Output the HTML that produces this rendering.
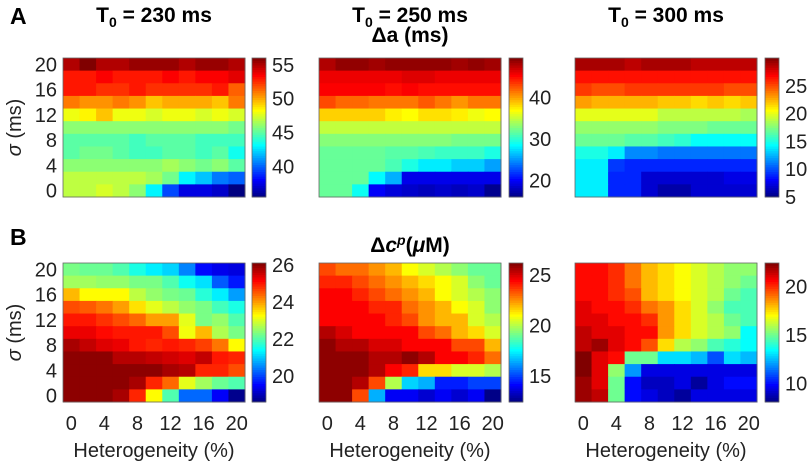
<!DOCTYPE html>
<html><head><meta charset="utf-8"><style>
html,body{margin:0;padding:0;background:#fff;}
svg{display:block;font-family:"Liberation Sans",Arial,sans-serif;}
</style></head><body>
<svg id="fig" width="812" height="465" viewBox="0 0 812 465" xmlns="http://www.w3.org/2000/svg">
<text x="10" y="24" font-size="23" font-weight="bold">A</text>
<text x="10" y="245" font-size="23" font-weight="bold">B</text>
<text x="154" y="22" font-size="21" font-weight="bold" text-anchor="middle">T<tspan font-size="14" dy="5">0</tspan><tspan dy="-5"> = 230 ms</tspan></text>
<text x="410" y="22" font-size="21" font-weight="bold" text-anchor="middle">T<tspan font-size="14" dy="5">0</tspan><tspan dy="-5"> = 250 ms</tspan></text>
<text x="666" y="22" font-size="21" font-weight="bold" text-anchor="middle">T<tspan font-size="14" dy="5">0</tspan><tspan dy="-5"> = 300 ms</tspan></text>
<text x="410" y="42" font-size="21" font-weight="bold" text-anchor="middle">Δa (ms)</text>
<text x="410" y="252" font-size="21" font-weight="bold" text-anchor="middle">Δ<tspan font-style="italic">c</tspan><tspan font-size="14" font-style="italic" dy="-7">p</tspan><tspan dy="7">(</tspan><tspan font-style="italic">μ</tspan>M)</text>
<g id="plots"></g>
</svg>
<script>
// categories
const hetCats = [0,2,4,6,8,10,12,14,16,18,20];
const sigmaCats = [20,18,16,14,12,10,8,6,4,2,0];
const xTickLabels = ["0","4","8","12","16","20"];
const yTickLabels = ["20","16","12","8","4","0"];
// Panel A1 (T0=230) delta a
const a230 = [
[55,56,55,55,55.5,55.5,55.5,55,55.5,55.5,55],
[53,53,53.5,53,53,53,53.5,53,53.5,53.5,54],
[53,53,52.5,52.5,53,52.5,52.5,52.5,52.5,53,51.5],
[51,50.5,50.5,51,50.5,49.5,50,50,50,49.5,51],
[48,48.5,49.5,48,48,47.5,48,48,47.5,48,47.5],
[46,46,46,46,46,46,46,46,46,46,45.5],
[45,45,45,45,44.5,45,45,45,44.5,44.5,44.5],
[45,45.5,45.5,45,44.5,44.5,45,45,44.5,45,43.5],
[46,46,46,46,46,46,46.5,46,45.5,46,45],
[47,47,47,47,47,46.5,45.5,43,42,40.5,40],
[47,47,47.5,47,46,43,39.5,37.5,37.5,37,35.5]];
const a250 = [
[48,49,49,48.5,49,49,49,49,48.5,49,48.5],
[46,46,46,46,46,46.5,46.5,46,46,46,46],
[45.5,45.5,45.5,45.5,45,45.5,45,45,45,45,45],
[43,42,42,41.5,41.5,41.5,42.5,41.5,40.5,41.5,41.5],
[38.5,38.5,38.5,38.5,37.5,37,38,38,37.5,36.5,37],
[35,35,35,35,35,35,35,35,35,35,35],
[33,33,33,33,33,33,33,33,32.5,32.5,32.5],
[32,32,32,32,31.5,31.5,31,30.5,30.5,30.5,29.5],
[32,32,32,32,31,29.5,28,28,27,27,25.5],
[32,32,32,28.5,26,19.5,19.5,19.5,19.5,19.5,19.5],
[32,32,29,20,19,18.5,18,18.5,18,18.5,16.5]];
const a300 = [
[29,29,29,28.5,29,29,29,28.5,28.5,28.5,28.5],
[26.5,26.5,26.5,26.5,26.5,26.5,26.5,26.5,26.5,26.5,26.5],
[25.5,25,25,25.5,25.5,25.5,25.5,25.5,25.5,25,25],
[23,22.5,22.5,22.5,22.5,22,22,21.5,22,21.5,22],
[20,20,20,20,20,19,19,19,19,19,18.5],
[18,18,18,18,18,17.5,17.5,17.5,17,17,17],
[17,17,17,16.5,16.5,16,15.5,14.5,14.5,14.5,14.5],
[15,15,14,11.5,11.5,11,11,11,11,11,11],
[14,14,9.5,9,9,9,9,9,9,9,9],
[14,14,9,9,7,7,7,7,7,7.5,7.5],
[14,14,9,9,7,6,6,7,7,7,7]];
const c230 = [
[22.3,22.2,22.2,22,21.6,21.3,21.1,20.5,19.6,19.4,19.3],
[22.6,22.6,22.5,22.5,22.3,22.3,22,21.5,21.2,20.2,19.7],
[23.8,23.3,23.3,23.3,22.8,22.5,22.3,22.2,21.7,21.3,20.7],
[24.6,24.5,24.3,24,23.5,23.1,22.8,22.5,22.3,21.9,21.6],
[25,25,24.8,24.6,24.4,24,24,23.1,22.3,22.5,22],
[25.3,25.3,25.1,25,25,25,24.6,23.2,23.8,22.7,22.3],
[25.8,25.6,25.4,25.3,25,24.9,25,24.9,24.7,24.3,23.3],
[26,26,26,25.7,25.7,25.6,25.5,25.4,25.6,25,24.9],
[26,26,26,26,26,26,25.8,25.7,24.9,24.9,24.6],
[26,26,26,26,25.8,24.9,24.4,23.1,22.6,22.2,22],
[26,26,26,25.8,24.9,23.3,22,20.3,20.3,19.5,18.7]];
const c250 = [
[23.5,23,23,22.5,22,21,20.5,20,19.5,19,19],
[24,24,23.5,23,22.5,22,21.5,21,20.5,19.5,19],
[24.5,24.5,24,23.5,23,22.5,22,21,20.5,20,19.5],
[24.5,24.5,24.5,24,24,23,22.5,22,21,20.5,19.5],
[24.5,24.5,24.5,24.5,24,23.5,22.5,22,22,20.5,20],
[25.5,25,24.5,24.5,24.5,24.5,23.5,23,22,21.5,20.5],
[26,25.5,25.5,25,25,24.5,24.5,24.5,23.5,23.5,22],
[26,26,26,25.5,25.5,26,25.5,24.5,24.5,24,23],
[26,26,26,25.5,24.5,24,21.5,21.5,20.5,20.5,20],
[26,26,25.5,23.5,20,17,16.5,14.5,14.5,15,15],
[26,26,23.5,16.5,14,14,13.5,14,13.5,14,12.5]];
const c300 = [
[20.5,20.5,20,19,18,17.5,17,16.5,16,15.5,15.5],
[20.5,20.5,20,19,18,17.5,17,16.5,16,15.5,15],
[20.5,20.5,20,19.5,18,17.5,17,16.5,16,15,14.5],
[21,20.5,20.5,20,19,18.5,17.5,16.5,15.5,14.5,14.5],
[21,21,20.5,20.5,20,18.5,17.5,16.5,16,15,14.5],
[21.5,21,21,20.5,20.5,18.5,17.5,16.5,16,15.5,13.5],
[21.5,22,21,20.5,19.5,17.5,16,15.5,14.5,14,13.5],
[22.5,21,20.5,15,15,13,13,12.5,11,13,12.5],
[22.5,21,15.5,12,9.5,9.5,9.5,9.5,9.5,9.5,9.5],
[22,21,15,10,9,9,9.5,8.5,9.5,10,10],
[22,21.5,15,10,9.5,9,8.5,9.5,9.5,9.5,9.5]];
// colour ranges and colorbar ticks
const rangeA230 = [35.5,56], ticksA230 = [40,45,50,55];
const rangeA250 = [16,49.6], ticksA250 = [20,30,40];
const rangeA300 = [5,30], ticksA300 = [5,10,15,20,25];
const rangeC230 = [18.6,26.1], ticksC230 = [20,22,24,26];
const rangeC250 = [12.4,26.2], ticksC250 = [15,20,25];
const rangeC300 = [8.1,22.4], ticksC300 = [10,15,20];

function jet(t){
  t=Math.max(0,Math.min(1,t));
  const f=(x)=>Math.max(0,Math.min(1,1.5-Math.abs(4*t-x)));
  return `rgb(${Math.round(255*f(3))},${Math.round(255*f(2))},${Math.round(255*f(1))})`;
}
const NS="http://www.w3.org/2000/svg";
const root=document.getElementById('plots');
function mk(tag,attrs,parent){const e=document.createElementNS(NS,tag);for(const k in attrs)e.setAttribute(k,attrs[k]);(parent||root).appendChild(e);return e;}

function panel(name,x0,y0,data,range,cbTicks,cbx,showY,showX){
  const W=182,H=139;
  const g=mk('g',{});
  
  
  const xScale=(i)=>x0+i*W/hetCats.length;
  const yScale=(j)=>y0+j*H/sigmaCats.length;
  const cw=W/hetCats.length, ch=H/sigmaCats.length;
  data.forEach((row,j)=>row.forEach((v,i)=>{
    const r=mk('rect',{x:xScale(i),y:yScale(j),width:cw+0.5,height:ch+0.5,fill:jet((v-range[0])/(range[1]-range[0]))},g);
    
    
  }));
  const fr=mk('rect',{x:x0,y:y0,width:W,height:H,fill:'none',stroke:'#666','stroke-width':0.8},g);
  
  
  if(showY){
    yTickLabels.forEach(l=>{
      const j=sigmaCats.indexOf(+l);
      const t=mk('text',{x:x0-6,y:yScale(j)+ch/2+7,'font-size':20,'text-anchor':'end',fill:'#222'},g);
      t.textContent=l;
      
      
    });
    const yl=mk('text',{x:0,y:0,'font-size':20,'text-anchor':'middle',fill:'#222',transform:`translate(${x0-42},${y0+H/2}) rotate(-90)`},g);
    yl.innerHTML='<tspan font-style="italic">σ</tspan> (ms)';
    
    
  }
  if(showX){
    xTickLabels.forEach(l=>{
      const i=hetCats.indexOf(+l);
      const t=mk('text',{x:xScale(i)+cw/2,y:y0+H+28,'font-size':20,'text-anchor':'middle',fill:'#222'},g);
      t.textContent=l;
      
      
    });
    const xl=mk('text',{x:x0+W/2,y:y0+H+55,'font-size':20,'text-anchor':'middle',fill:'#222'},g);
    xl.textContent='Heterogeneity  (%)';
    
    
  }
  // colorbar
  const cbW=14, N=60;
  const cy=(v)=>y0+H-(v-range[0])/(range[1]-range[0])*H;
  for(let k=0;k<N;k++){
    const s=mk('rect',{x:cbx,y:y0+H-(k+1)*H/N,width:cbW,height:H/N+0.5,fill:jet((k+0.5)/N)},g);
    
    
  }
  const cf=mk('rect',{x:cbx,y:y0,width:cbW,height:H,fill:'none',stroke:'#666','stroke-width':0.8},g);
  
  
  cbTicks.forEach(v=>{
    const t=mk('text',{x:cbx+cbW+6,y:Math.min(cy(v)+7,y0+H+9),'font-size':20,fill:'#222'},g);
    t.textContent=v;
    
    
  });
}
panel('heatmap-delta-a-t230',63,58,a230,rangeA230,ticksA230,252,true,false);
panel('heatmap-delta-a-t250',319,58,a250,rangeA250,ticksA250,509,false,false);
panel('heatmap-delta-a-t300',575,58,a300,rangeA300,ticksA300,765,false,false);
panel('heatmap-delta-c-t230',63,263,c230,rangeC230,ticksC230,252,true,true);
panel('heatmap-delta-c-t250',319,263,c250,rangeC250,ticksC250,509,false,true);
panel('heatmap-delta-c-t300',575,263,c300,rangeC300,ticksC300,765,false,true);
</script>
</body></html>
